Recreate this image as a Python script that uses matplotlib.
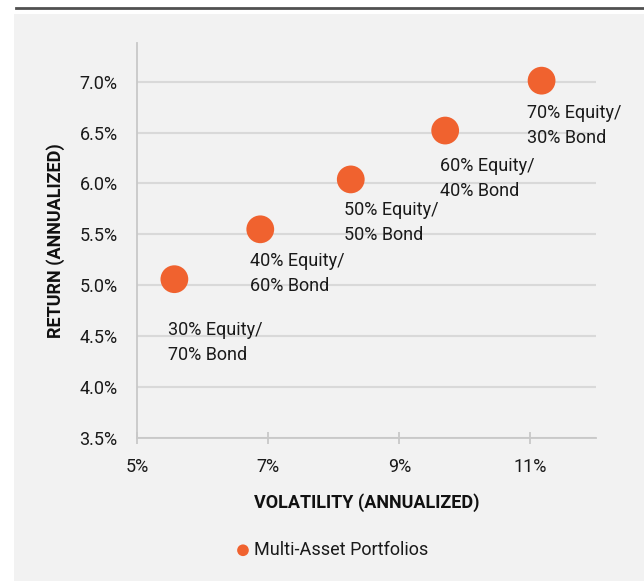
import matplotlib
matplotlib.use("Agg")
import matplotlib.pyplot as plt
from matplotlib.patches import Rectangle
from matplotlib.lines import Line2D
from matplotlib.ticker import FuncFormatter, MultipleLocator

plt.rcParams['font.family'] = ['Roboto', 'DejaVu Sans']

# Data
labels = ["30% Equity/\n70% Bond", "40% Equity/\n60% Bond", "50% Equity/\n50% Bond",
          "60% Equity/\n40% Bond", "70% Equity/\n30% Bond"]
volatility = [5.57, 6.88, 8.26, 9.70, 11.17]
returns = [5.06, 5.55, 6.04, 6.52, 7.01]
x_ticks = [5, 7, 9, 11]
series_name = "Multi-Asset Portfolios"

# label offsets (pixels)
offsets = [(-6, -42), (-10, -23), (-7, -22), (-5, -26), (-15, -23)]

W, H = 644, 581
fig = plt.figure(figsize=(W / 100, H / 100), dpi=100)
fig.patch.set_facecolor('white')
fig.patches.append(Rectangle((14 / W, 0), 1 - 14 / W, 1 - 14 / H, transform=fig.transFigure,
                             facecolor='#f2f2f2', edgecolor='none', zorder=-5))
fig.lines.append(Line2D([16 / W, 1], [1 - 8 / H, 1 - 8 / H], transform=fig.transFigure,
                        color='#505050', lw=2.0, zorder=-4))

ax = fig.add_axes([137 / W, (H - 438) / H, (596 - 137) / W, (438 - 43) / H])
ax.set_zorder(2)
ax.set_facecolor('none')
orange = '#F0622F'
ax.scatter(volatility, returns, s=400, color=orange, edgecolors='none', zorder=3,
           label=series_name)
for x, y, t, (dx, dy) in zip(volatility, returns, labels, offsets):
    ax.annotate(t, (x, y), xytext=(dx, dy), textcoords='offset pixels', ha='left', va='top',
                fontsize=13, color='#1a1a1a', linespacing=1.5, zorder=4)

ax.set_xlim(5, 12)
ax.set_ylim(3.5, 7.38)
ax.set_xticks(x_ticks)
ax.yaxis.set_major_locator(MultipleLocator(0.5))
ax.xaxis.set_major_formatter(FuncFormatter(lambda v, p: f"{v:.0f}%"))
ax.yaxis.set_major_formatter(FuncFormatter(lambda v, p: f"{v:.1f}%"))
ax.grid(axis='y', color='#d9d9d9', lw=1.5, zorder=0)
ax.set_axisbelow(True)
for s in ['top', 'right']:
    ax.spines[s].set_visible(False)
for s in ['left', 'bottom']:
    ax.spines[s].set_color('#c8c8c8')
    ax.spines[s].set_linewidth(1.3)
ax.tick_params(axis='y', length=0, pad=14, labelsize=13, labelcolor='#1a1a1a')
ax.tick_params(axis='x', direction='inout', length=9, width=1.3, color='#c8c8c8', pad=10,
               labelsize=13, labelcolor='#1a1a1a')

ax.set_xlabel("VOLATILITY (ANNUALIZED)", fontsize=13, fontweight='bold', color='#111111',
              labelpad=12)
ax.set_ylabel("RETURN (ANNUALIZED)", fontsize=13, fontweight='bold', color='#111111')
ax.yaxis.set_label_coords((65 - 137) / (596 - 137), 0.5)

handles, lbls = ax.get_legend_handles_labels()
leg = fig.legend(handles, lbls, loc='center', bbox_to_anchor=(331 / W, 1 - 550 / H),
                 frameon=False, fontsize=13, handletextpad=0.1, markerscale=0.42,
                 handlelength=1.0, labelcolor='#1a1a1a')

fig.savefig("out.png", dpi=100, facecolor=fig.get_facecolor())
